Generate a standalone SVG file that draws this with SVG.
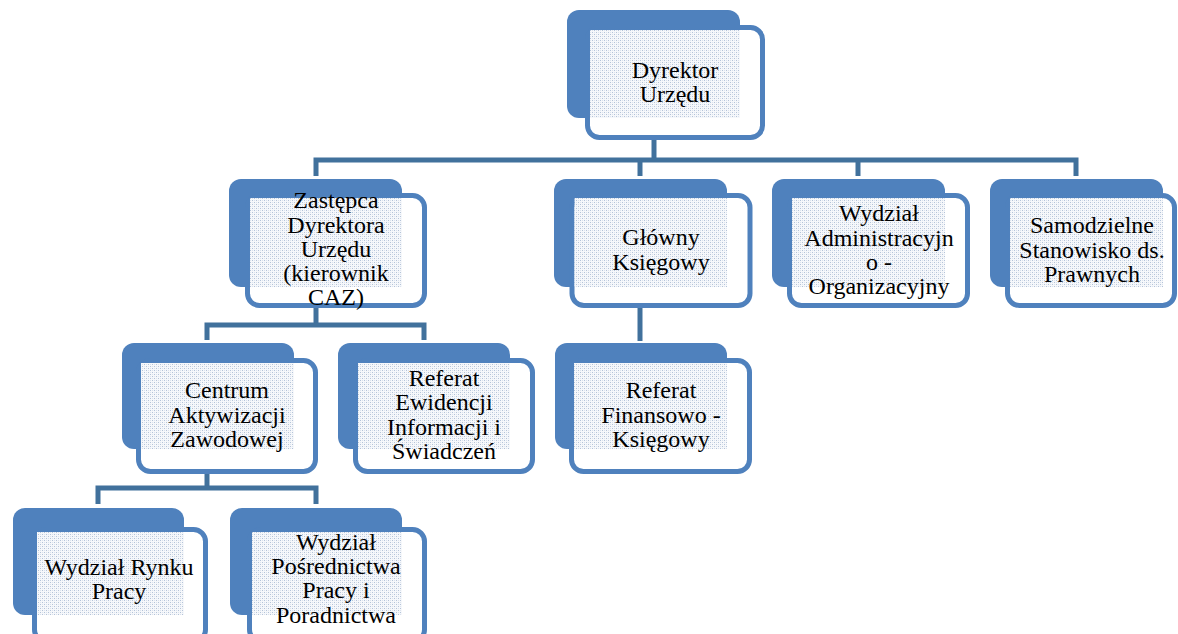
<svg xmlns="http://www.w3.org/2000/svg" width="1178" height="634" viewBox="0 0 1178 634">
<defs>
<pattern id="dots" width="4" height="4" patternUnits="userSpaceOnUse">
<rect width="4" height="4" fill="#f6f8fb"/>
<rect x="0" y="0" width="1" height="1" fill="#b4c3d8"/>
<rect x="2" y="2" width="1" height="1" fill="#b4c3d8"/>
<rect x="2" y="0" width="1" height="1" fill="#dbe2ed"/>
<rect x="0" y="2" width="1" height="1" fill="#dbe2ed"/>
</pattern>
</defs>
<rect width="1178" height="634" fill="#ffffff"/>
<g id="connectors" fill="none" stroke="#41719c" stroke-width="5">
<path d="M654,138 V160"/>
<path d="M316,176 V160 H1076 V176"/>
<path d="M640,160 V176"/>
<path d="M858,160 V176"/>
<path d="M316,305 V325"/>
<path d="M207,340 V325 H424 V340"/>
<path d="M640,305 V341"/>
<path d="M207,472 V488"/>
<path d="M98,504 V488 H316 V504"/>
</g>
<g id="n-dyrektor">
<rect fill="#4f81bd" x="567" y="10" width="173" height="108" rx="12"/>
<rect fill="#ffffff" stroke="#4f81bd" stroke-width="5" x="587.5" y="27.5" width="175" height="110" rx="12"/>
<rect fill="url(#dots)" x="590" y="30" width="150" height="88"/>
<text font-family="Liberation Serif" font-size="24" text-anchor="middle" x="675" y="78">Dyrektor</text>
<text font-family="Liberation Serif" font-size="24" text-anchor="middle" x="675" y="102">Urzędu</text>
</g>
<g id="n-zastepca">
<rect fill="#4f81bd" x="229" y="179" width="173" height="108" rx="12"/>
<rect fill="#ffffff" stroke="#4f81bd" stroke-width="5" x="247.5" y="195.5" width="177" height="110" rx="12"/>
<rect fill="url(#dots)" x="250" y="198" width="152" height="89"/>
<text font-family="Liberation Serif" font-size="24" text-anchor="middle" x="336" y="208">Zastępca</text>
<text font-family="Liberation Serif" font-size="24" text-anchor="middle" x="336" y="233">Dyrektora</text>
<text font-family="Liberation Serif" font-size="24" text-anchor="middle" x="336" y="257">Urzędu</text>
<text font-family="Liberation Serif" font-size="24" text-anchor="middle" x="336" y="281">(kierownik</text>
<text font-family="Liberation Serif" font-size="24" text-anchor="middle" x="336" y="305">CAZ)</text>
</g>
<g id="n-glowny">
<rect fill="#4f81bd" x="554" y="179" width="173" height="108" rx="12"/>
<rect fill="#ffffff" stroke="#4f81bd" stroke-width="5" x="572" y="195.5" width="178" height="110" rx="12"/>
<rect fill="url(#dots)" x="574.5" y="198" width="152.5" height="89"/>
<text font-family="Liberation Serif" font-size="24" text-anchor="middle" x="661" y="245">Główny</text>
<text font-family="Liberation Serif" font-size="24" text-anchor="middle" x="661" y="270">Księgowy</text>
</g>
<g id="n-administracyjny">
<rect fill="#4f81bd" x="772" y="179" width="173" height="108" rx="12"/>
<rect fill="#ffffff" stroke="#4f81bd" stroke-width="5" x="789.5" y="195.5" width="178" height="110" rx="12"/>
<rect fill="url(#dots)" x="792" y="198" width="153" height="89"/>
<text font-family="Liberation Serif" font-size="24" text-anchor="middle" x="879" y="221">Wydział</text>
<text font-family="Liberation Serif" font-size="24" text-anchor="middle" x="879" y="246">Administracyjn</text>
<text font-family="Liberation Serif" font-size="24" text-anchor="middle" x="879" y="270">o -</text>
<text font-family="Liberation Serif" font-size="24" text-anchor="middle" x="879" y="294">Organizacyjny</text>
</g>
<g id="n-samodzielne">
<rect fill="#4f81bd" x="990" y="179" width="173" height="108" rx="12"/>
<rect fill="#ffffff" stroke="#4f81bd" stroke-width="5" x="1007.5" y="195.5" width="167" height="110" rx="12"/>
<rect fill="url(#dots)" x="1010" y="198" width="153" height="89"/>
<text font-family="Liberation Serif" font-size="24" text-anchor="middle" x="1092" y="233">Samodzielne</text>
<text font-family="Liberation Serif" font-size="24" text-anchor="middle" x="1092" y="258">Stanowisko ds.</text>
<text font-family="Liberation Serif" font-size="24" text-anchor="middle" x="1092" y="282">Prawnych</text>
</g>
<g id="n-centrum">
<rect fill="#4f81bd" x="122" y="343" width="172" height="106" rx="12"/>
<rect fill="#ffffff" stroke="#4f81bd" stroke-width="5" x="138.5" y="360.5" width="177" height="111" rx="12"/>
<rect fill="url(#dots)" x="141" y="363" width="153" height="86"/>
<text font-family="Liberation Serif" font-size="24" text-anchor="middle" x="227" y="398">Centrum</text>
<text font-family="Liberation Serif" font-size="24" text-anchor="middle" x="227" y="423">Aktywizacji</text>
<text font-family="Liberation Serif" font-size="24" text-anchor="middle" x="227" y="447">Zawodowej</text>
</g>
<g id="n-ewidencji">
<rect fill="#4f81bd" x="338" y="343" width="172" height="106" rx="12"/>
<rect fill="#ffffff" stroke="#4f81bd" stroke-width="5" x="355.5" y="360.5" width="177" height="111" rx="12"/>
<rect fill="url(#dots)" x="358" y="363" width="152" height="86"/>
<text font-family="Liberation Serif" font-size="24" text-anchor="middle" x="444" y="386">Referat</text>
<text font-family="Liberation Serif" font-size="24" text-anchor="middle" x="444" y="410">Ewidencji</text>
<text font-family="Liberation Serif" font-size="24" text-anchor="middle" x="444" y="435">Informacji i</text>
<text font-family="Liberation Serif" font-size="24" text-anchor="middle" x="444" y="459">Świadczeń</text>
</g>
<g id="n-finansowo">
<rect fill="#4f81bd" x="555" y="343" width="172" height="106" rx="12"/>
<rect fill="#ffffff" stroke="#4f81bd" stroke-width="5" x="571.5" y="360.5" width="178" height="111" rx="12"/>
<rect fill="url(#dots)" x="574" y="363" width="153" height="86"/>
<text font-family="Liberation Serif" font-size="24" text-anchor="middle" x="661" y="398">Referat</text>
<text font-family="Liberation Serif" font-size="24" text-anchor="middle" x="661" y="423">Finansowo -</text>
<text font-family="Liberation Serif" font-size="24" text-anchor="middle" x="661" y="447">Księgowy</text>
</g>
<g id="n-rynku">
<rect fill="#4f81bd" x="13" y="508" width="171" height="107" rx="12"/>
<rect fill="#ffffff" stroke="#4f81bd" stroke-width="5" x="34.5" y="529.5" width="171" height="112" rx="12"/>
<rect fill="url(#dots)" x="37" y="532" width="147" height="83"/>
<text font-family="Liberation Serif" font-size="24" text-anchor="middle" x="119" y="575">Wydział Rynku</text>
<text font-family="Liberation Serif" font-size="24" text-anchor="middle" x="119" y="599">Pracy</text>
</g>
<g id="n-posrednictwa">
<rect fill="#4f81bd" x="230" y="508" width="172" height="107" rx="12"/>
<rect fill="#ffffff" stroke="#4f81bd" stroke-width="5" x="249.5" y="529.5" width="175" height="112" rx="12"/>
<rect fill="url(#dots)" x="252" y="532" width="150" height="83"/>
<text font-family="Liberation Serif" font-size="24" text-anchor="middle" x="336" y="550">Wydział</text>
<text font-family="Liberation Serif" font-size="24" text-anchor="middle" x="336" y="574">Pośrednictwa</text>
<text font-family="Liberation Serif" font-size="24" text-anchor="middle" x="336" y="598">Pracy i</text>
<text font-family="Liberation Serif" font-size="24" text-anchor="middle" x="336" y="623">Poradnictwa</text>
</g>
</svg>
